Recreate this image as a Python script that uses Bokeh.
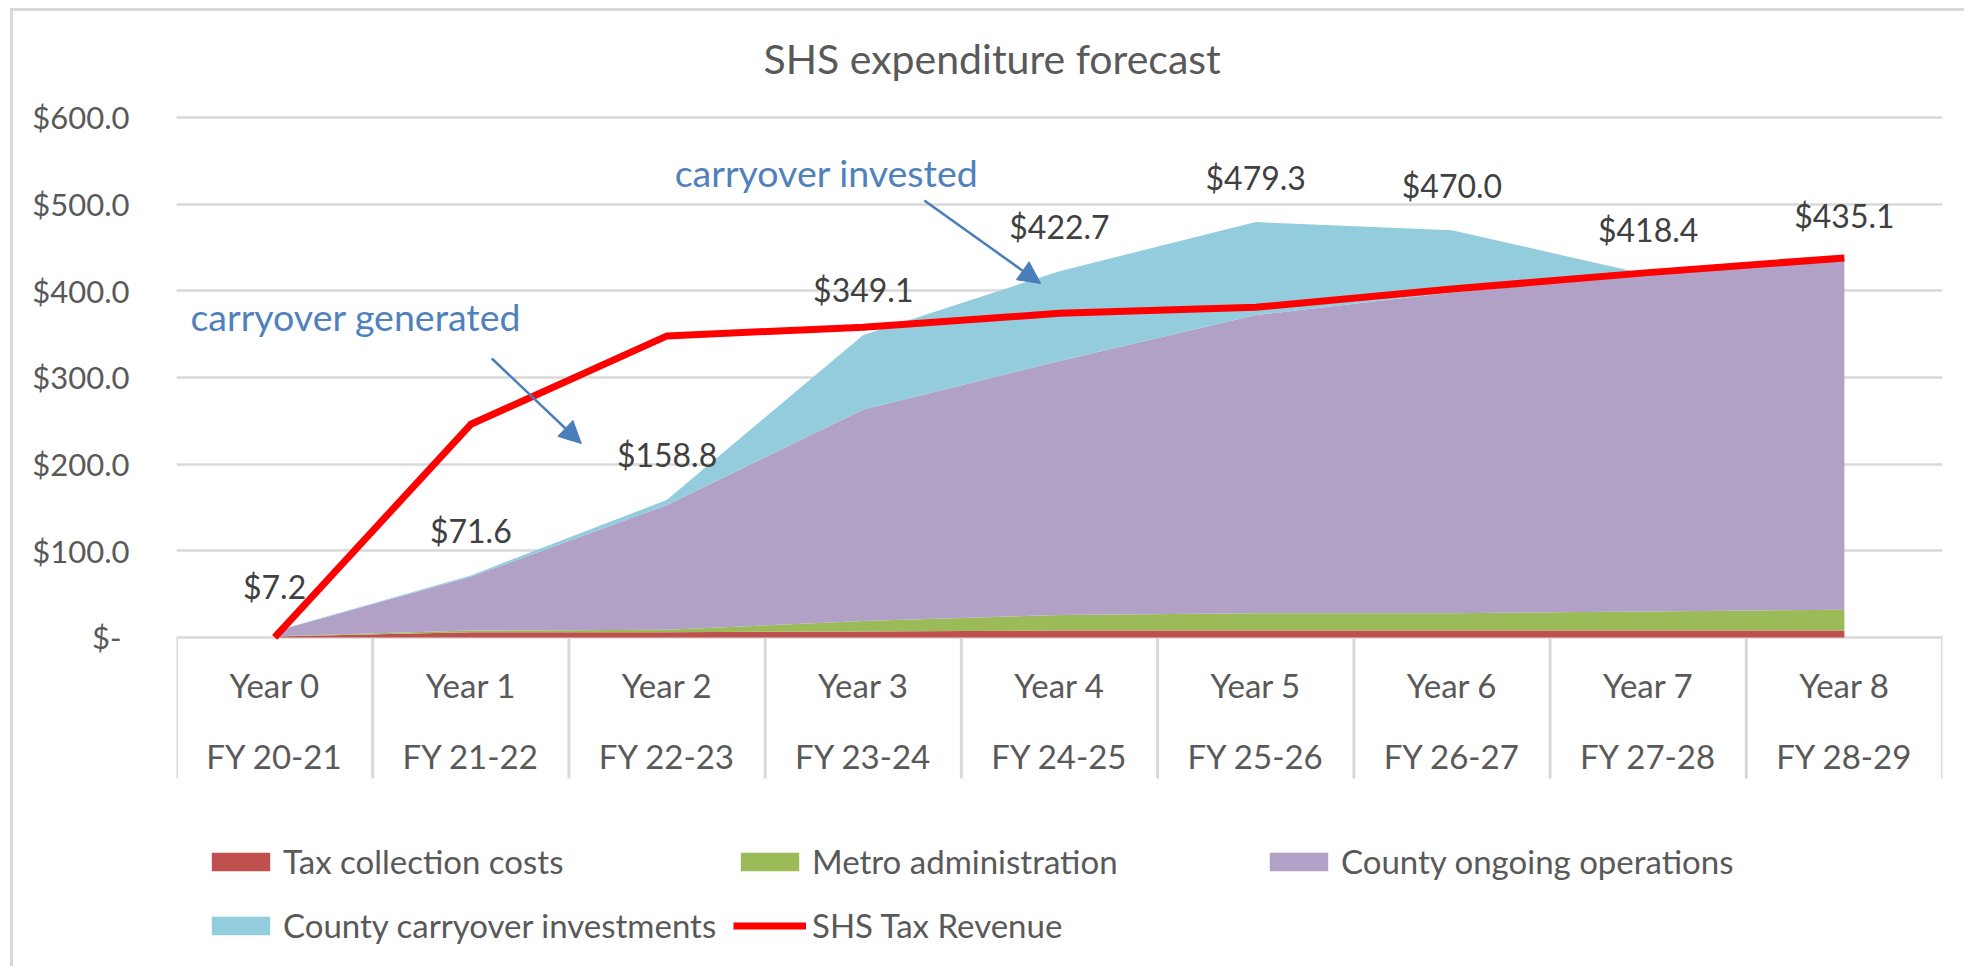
from bokeh.plotting import figure
from bokeh.models import (ColumnDataSource, Range1d, FixedTicker, Legend, LegendItem,
                          LabelSet, Arrow, NormalHead, Label)
from bokeh.core.properties import value
from bokeh.embed import file_html
from bokeh.resources import INLINE

# ---------------- data ----------------
years = ["Year 0", "Year 1", "Year 2", "Year 3", "Year 4", "Year 5", "Year 6", "Year 7", "Year 8"]
fiscal_years = ["FY 20-21", "FY 21-22", "FY 22-23", "FY 23-24", "FY 24-25",
                "FY 25-26", "FY 26-27", "FY 27-28", "FY 28-29"]
tax_collection = [1.0, 6.0, 6.0, 7.0, 8.0, 8.0, 8.0, 8.0, 8.0]
metro_admin = [0.5, 2.0, 3.0, 12.0, 18.0, 20.0, 20.0, 22.0, 24.0]
county_ongoing = [5.4, 62.0, 144.0, 244.0, 293.0, 344.0, 370.0, 388.4, 403.1]
county_carryover = [0.3, 1.6, 5.8, 86.1, 103.7, 107.3, 72.0, 0.0, 0.0]
shs_revenue = [0.0, 246.0, 348.0, 358.0, 374.0, 381.0, 402.0, 421.0, 438.0]
y_ticks = [0, 100, 200, 300, 400, 500, 600]

FONT = "Lato"
TXT = "#595959"

xs = [i + 0.5 for i in range(len(years))]
totals = [round(a + b + c + d, 1) for a, b, c, d in
          zip(tax_collection, metro_admin, county_ongoing, county_carryover)]
total_labels = ["${:.1f}".format(t) for t in totals]

source = ColumnDataSource(dict(
    x=xs, tax=tax_collection, metro=metro_admin, ops=county_ongoing,
    carry=county_carryover, rev=shs_revenue, total=totals, label=total_labels,
    year=years, fy=fiscal_years))

p = figure(width=1954, height=958,
           x_range=Range1d(0, len(years)), y_range=Range1d(-383.1, 619.6),
           x_axis_location=None, y_axis_location="left",
           output_backend="svg", toolbar_location=None,
           min_border_left=163, min_border_right=25, min_border_top=89, min_border_bottom=0,
           outline_line_color=None, background_fill_color="white", border_fill_color="white",
           title="SHS expenditure forecast",
           styles={"margin-left": "10px", "margin-top": "8px",
                   "border-left": "3px solid #D9D9D9", "border-top": "3px solid #D9D9D9"})

p.title.align = "left"
p.title.offset = 587
p.title.standoff = 36
p.title.text_font = FONT
p.title.text_font_size = "41px"
p.title.text_font_style = "normal"
p.title.text_color = TXT

# y axis
p.yaxis.ticker = FixedTicker(ticks=y_ticks)
p.yaxis.major_label_overrides = {t: ("$-\u00a0" if t == 0 else "${:.1f}".format(t)) for t in y_ticks}
p.yaxis.axis_line_color = None
p.yaxis.major_tick_line_color = None
p.yaxis.minor_tick_line_color = None
p.yaxis.major_label_standoff = 41
p.yaxis.major_label_text_font = FONT
p.yaxis.major_label_text_font_size = "31px"
p.yaxis.major_label_text_color = TXT
p.ygrid.grid_line_color = "#D9D9D9"
p.ygrid.grid_line_width = 2.5
p.xgrid.visible = False

# category table lines below the axis
p.segment(x0=list(range(len(years) + 1)), y0=0, x1=list(range(len(years) + 1)), y1=-162.7,
          line_color="#D9D9D9", line_width=3)

# stacked areas
colors = ["#C0504D", "#9BBB59", "#B2A1C7", "#93CDDD"]
areas = p.varea_stack(["tax", "metro", "ops", "carry"], x="x", color=colors, source=source)

# revenue line
rev_line = p.line("x", "rev", source=source, line_color="#FF0000", line_width=7,
                  line_join="round")

# total labels
p.add_layout(LabelSet(x="x", y="total", text="label", source=source, y_offset=45,
                      text_align="center", text_baseline="middle",
                      text_font=value(FONT), text_font_size=value("32px"),
                      text_color="#404040"))

# category labels
p.text(x="x", y=-55.4, text="year", source=source, text_align="center",
       text_baseline="middle", text_font=value(FONT), text_font_size=value("33px"),
       text_color=TXT)
p.text(x="x", y=-137.3, text="fy", source=source, text_align="center",
       text_baseline="middle", text_font=value(FONT), text_font_size=value("33px"),
       text_color=TXT)

# annotations
ANN = "#4F81BD"
p.add_layout(Label(x=0.071, y=370.4, text="carryover generated", text_align="left",
                   text_baseline="middle", text_font=FONT, text_font_size="37.5px",
                   text_color=ANN))
p.add_layout(Label(x=2.539, y=536.5, text="carryover invested", text_align="left",
                   text_baseline="middle", text_font=FONT, text_font_size="37.5px",
                   text_color=ANN))
p.add_layout(Arrow(x_start=1.607, y_start=321.9, x_end=2.063, y_end=223.8,
                   line_color="#4A7EBB", line_width=2.5,
                   end=NormalHead(size=22, fill_color="#4A7EBB", line_color="#4A7EBB")))
p.add_layout(Arrow(x_start=3.811, y_start=504.2, x_end=4.404, y_end=408.4,
                   line_color="#4A7EBB", line_width=2.5,
                   end=NormalHead(size=22, fill_color="#4A7EBB", line_color="#4A7EBB")))

legend = Legend(items=[
    LegendItem(label="Tax collection costs", renderers=[areas[0]]),
    LegendItem(label="Metro administration", renderers=[areas[1]]),
    LegendItem(label="County ongoing operations", renderers=[areas[2]]),
    LegendItem(label="County carryover investments", renderers=[areas[3]]),
    LegendItem(label="SHS Tax Revenue", renderers=[rev_line]),
], orientation="horizontal", ncols=3, location=(28, 17),
    glyph_width=73, glyph_height=23, label_standoff=6, label_height=54,
    spacing=10, label_width=440, padding=0, margin=0,
    border_line_color=None, background_fill_alpha=0,
    label_text_font=FONT, label_text_font_size="33px", label_text_color=TXT)
p.add_layout(legend)

open("out.html", "w").write(file_html(p, INLINE))
